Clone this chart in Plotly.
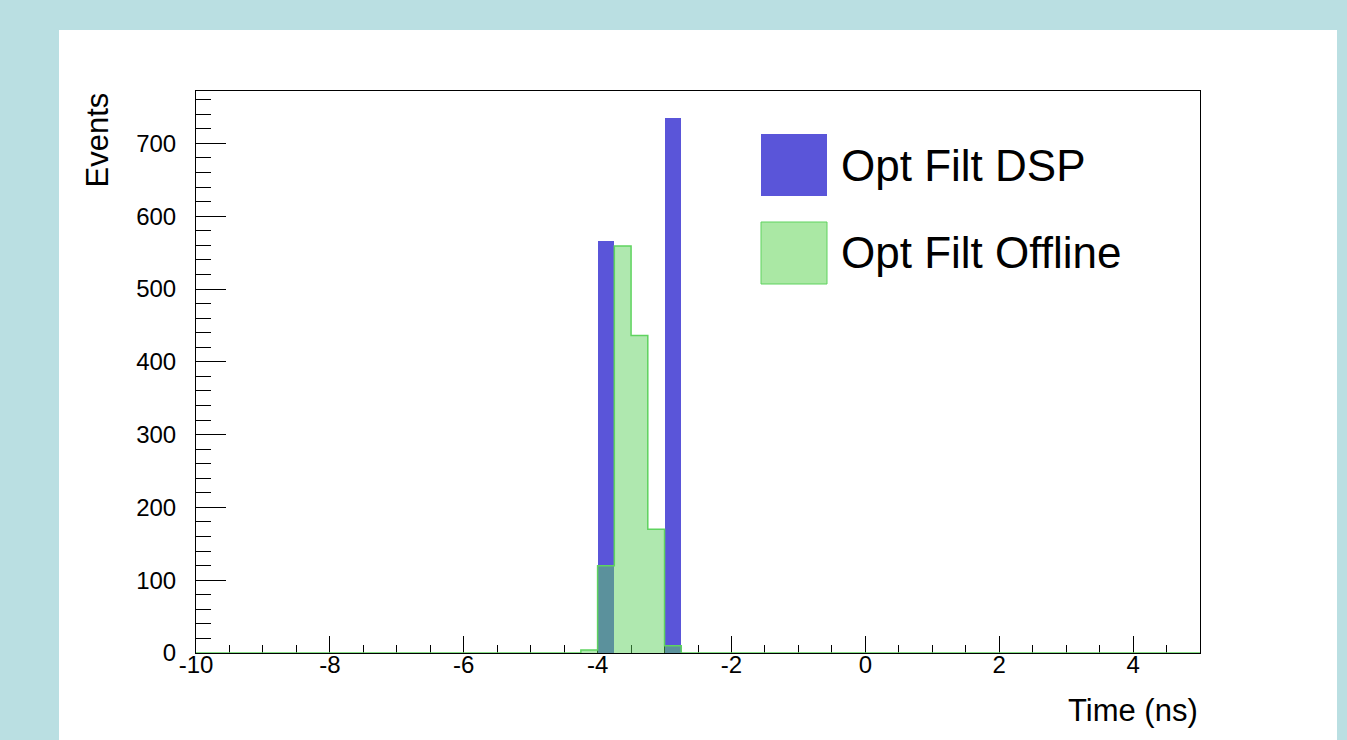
import plotly.graph_objects as go

# ---- data ----
bin_width = 0.25
dsp_bin_low = [-4.0, -3.0]
dsp_counts = [566, 735]
off_bin_low = [-4.25, -4.0, -3.75, -3.5, -3.25, -3.0]
off_counts = [4, 120, 559, 436, 170, 10]
x_range = [-10, 5]
y_range = [0, 772]
x_tick_vals = [-10, -8, -6, -4, -2, 0, 2, 4]
x_tick_text = ["-10", "-8", "-6", "-4", "-2", "0", "2", "4"]
legend_labels = ["Opt Filt DSP", "Opt Filt Offline"]

BLUE = "#5a55d9"
GREEN_LINE = "#5fd35f"
GREEN_FG = "#5cd05c"
BG = "#badfe2"
FONT = "Liberation Sans, Arial, Helvetica, sans-serif"

fig = go.Figure()

fig.add_trace(go.Bar(
    x=[b + bin_width / 2 for b in dsp_bin_low], y=dsp_counts, width=bin_width,
    marker=dict(color=BLUE, line=dict(width=0)), showlegend=False, hoverinfo="x+y"))

fig.add_trace(go.Bar(
    x=[b + bin_width / 2 for b in off_bin_low], y=off_counts, width=bin_width,
    marker=dict(color=GREEN_FG, line=dict(width=0),
                pattern=dict(shape=".", fgcolor=GREEN_FG, bgcolor="rgba(255,255,255,0)",
                             size=2, solidity=0.9)),
    showlegend=False, hoverinfo="x+y"))

# step outline of offline histogram (contiguous bins)
sx = [x_range[0]] + off_bin_low + [off_bin_low[-1] + bin_width, x_range[1]]
sy = [0] + off_counts + [0, 0]
fig.add_trace(go.Scatter(x=sx, y=sy, mode="lines", line=dict(color=GREEN_LINE, width=1.5, shape="hv"),
                         showlegend=False, hoverinfo="skip", cliponaxis=False))

L, R, T, B = 196, 147, 91, 87
W, H = 1347, 740
pw, ph = W - L - R, H - T - B

def px(x):
    return (x - L) / pw

def py(y):
    return (H - B - y) / ph

shapes = [
    dict(type="rect", xref="paper", yref="paper", x0=px(59), x1=px(1337), y0=py(742), y1=py(30),
         fillcolor="white", line=dict(width=0), layer="below"),
    dict(type="rect", xref="paper", yref="paper", x0=px(761), x1=px(827), y0=py(196), y1=py(134),
         fillcolor=BLUE, line=dict(width=0)),
    dict(type="rect", xref="paper", yref="paper", x0=px(761), x1=px(827), y0=py(284), y1=py(222),
         fillcolor="#aae8a4", line=dict(color=GREEN_LINE, width=1)),
]

annotations = [
    dict(text=legend_labels[0], xref="paper", yref="paper", x=px(839), y=py(165),
         xanchor="left", yanchor="middle", showarrow=False, font=dict(size=44, color="black", family=FONT)),
    dict(text=legend_labels[1], xref="paper", yref="paper", x=px(839), y=py(253),
         xanchor="left", yanchor="middle", showarrow=False, font=dict(size=44, color="black", family=FONT)),
    dict(text="Time (ns)", xref="paper", yref="paper", x=1, y=py(710),
         xanchor="right", yanchor="middle", showarrow=False, font=dict(size=31, color="black", family=FONT)),
    dict(text="Events", xref="paper", yref="paper", x=px(97), y=1,
         xanchor="center", yanchor="top", textangle=-90, showarrow=False,
         font=dict(size=31, color="black", family=FONT)),
]

fig.update_layout(
    width=W, height=H,
    margin=dict(l=L, r=R, t=T, b=B, pad=0),
    paper_bgcolor=BG, plot_bgcolor="white",
    barmode="overlay", bargap=0,
    font=dict(family=FONT, color="black", size=24),
    shapes=shapes, annotations=annotations,
    showlegend=False,
)

fig.update_xaxes(
    range=x_range, tickmode="array", tickvals=x_tick_vals, ticktext=x_tick_text,
    ticks="inside", ticklen=17, tickcolor="black", tickwidth=1, layer="below traces",
    showgrid=False, zeroline=False, showline=True, linecolor="black", linewidth=1, mirror=True,
    tickfont=dict(size=24, family=FONT), ticklabelstandoff=-10,
    minor=dict(dtick=0.5, tick0=0, ticks="inside", ticklen=8, tickcolor="black", tickwidth=1, showgrid=False),
)
fig.update_yaxes(
    range=y_range, tick0=0, dtick=100, ticks="inside", ticklen=30, tickcolor="black", tickwidth=1,
    layer="below traces",
    showgrid=False, zeroline=False, showline=True, linecolor="black", linewidth=1, mirror=True,
    tickfont=dict(size=24, family=FONT), ticklabelstandoff=14,
    minor=dict(dtick=20, tick0=0, ticks="inside", ticklen=15, tickcolor="black", tickwidth=1, showgrid=False),
)

fig.write_html("out.html", config={"displayModeBar": False},
               post_script="document.body.style.margin='0';document.body.style.overflow='hidden';")
